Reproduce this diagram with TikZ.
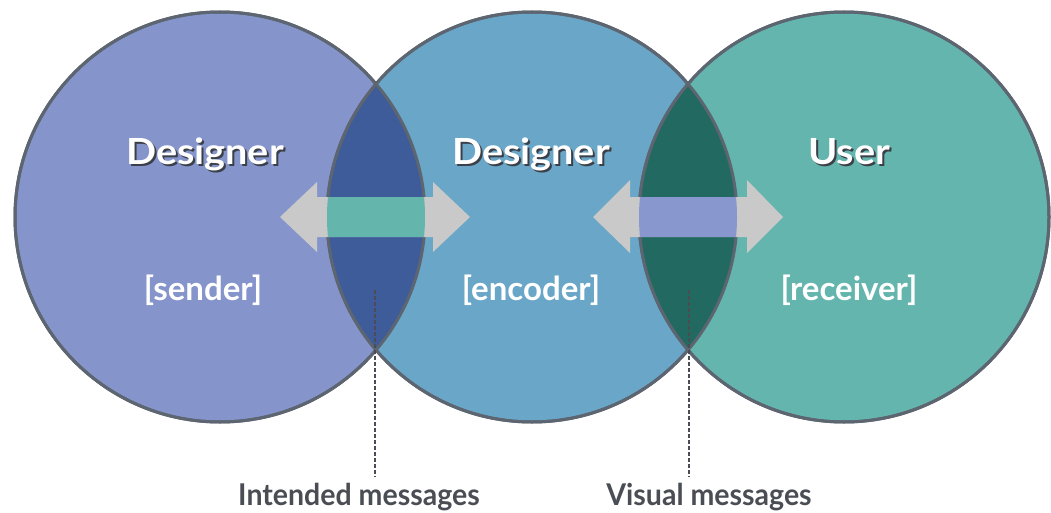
\documentclass[tikz,border=0pt]{standalone}
\usepackage{fontspec}
\setmainfont{Lato}
\usetikzlibrary{positioning}

\definecolor{senderfill}{HTML}{8595CB}
\definecolor{encoderfill}{HTML}{6AA6C8}
\definecolor{receiverfill}{HTML}{64B5AE}
\definecolor{lensA}{HTML}{3D5C99}
\definecolor{lensB}{HTML}{216961}
\definecolor{ringline}{HTML}{5C6570}
\definecolor{arrowgrey}{HTML}{C9C9C9}
\definecolor{shaftA}{HTML}{64B6AD}
\definecolor{shaftB}{HTML}{8898CE}
\definecolor{labelgrey}{HTML}{4A4E54}
\definecolor{shadowgrey}{HTML}{3A3F48}

% slightly widened lettering for the headings
\newcommand{\wideword}[1]{\scalebox{1.1}[1]{#1}}

\tikzset{
  ring/.style={circle, minimum size=410pt, inner sep=0pt, draw=ringline, line width=3pt},
  title/.style={text=white, font=\bfseries\fontsize{36}{40}\selectfont, inner sep=0pt, anchor=base},
  titleshade/.style={text=shadowgrey, font=\bfseries\fontsize{36}{40}\selectfont, inner sep=0pt, anchor=base},
  role/.style={text=white, font=\bfseries\fontsize{33}{36}\selectfont, inner sep=0pt, anchor=base},
  caption/.style={text=labelgrey, font=\bfseries\fontsize{30}{33}\selectfont, inner sep=0pt, anchor=base},
  leader/.style={draw=labelgrey, line width=2pt, dash pattern=on 4pt off 2pt},
  twoway/.style={fill=arrowgrey},
}

\begin{document}
\begin{tikzpicture}[x=1pt, y=-1pt]
\useasboundingbox (0,0) rectangle (1051,513);
\fill[white] (0,0) rectangle (1051,513);

% the three circles
\node[ring, fill=senderfill]   (sender)   at (220,217) {};
\node[ring, fill=encoderfill]  (encoder)  at (532,217) {};
\node[ring, fill=receiverfill] (receiver) at (844,217) {};

% overlapping lenses
\begin{scope}
  \clip (220,217) circle (205);
  \fill[lensA] (532,217) circle (205);
\end{scope}
\begin{scope}
  \clip (532,217) circle (205);
  \fill[lensB] (844,217) circle (205);
\end{scope}

% outlines on top of the lens fills
\draw[ringline, line width=3pt] (220,217) circle (205);
\draw[ringline, line width=3pt] (532,217) circle (205);
\draw[ringline, line width=3pt] (844,217) circle (205);

% double arrows across the lenses
\fill[twoway] (280,217) -- (317,182) -- (317,197) -- (433,197) -- (433,182)
  -- (470,217) -- (433,252) -- (433,237) -- (317,237) -- (317,252) -- cycle;
\fill[twoway] (593,217) -- (630,180) -- (630,197) -- (747,197) -- (747,180)
  -- (783,217) -- (747,253) -- (747,237) -- (630,237) -- (630,253) -- cycle;
\begin{scope}
  \clip (220,217) circle (205);
  \clip (532,217) circle (205);
  \fill[shaftA] (317,197) rectangle (433,237);
\end{scope}
\begin{scope}
  \clip (532,217) circle (205);
  \clip (844,217) circle (205);
  \fill[shaftB] (630,197) rectangle (747,237);
\end{scope}

% titles with drop shadow
\node[titleshade] at (207,167) {\wideword{Designer}};
\node[title] (t1) at (205,165) {\wideword{Designer}};
\node[titleshade] at (533,167) {\wideword{Designer}};
\node[title] (t2) at (531,165) {\wideword{Designer}};
\node[titleshade] at (851,167) {\wideword{User}};
\node[title] (t3) at (849,165) {\wideword{User}};

% roles
\node[role] (r1) at (203,300) {[sender]};
\node[role] (r2) at (531,300) {[encoder]};
\node[role] (r3) at (849,300) {[receiver]};

% captions and leaders
\node[caption] (cap1) at (359,505) {\scalebox{0.95}[1]{Intended messages}};
\node[caption] (cap2) at (709,505) {\scalebox{0.95}[1]{Visual messages}};
\coordinate (lensAmark) at (375,290);
\coordinate (lensBmark) at (689,290);
\draw[leader] (lensAmark) -- (lensAmark |- 0,477);
\draw[leader] (lensBmark) -- (lensBmark |- 0,477);
\end{tikzpicture}
\end{document}
